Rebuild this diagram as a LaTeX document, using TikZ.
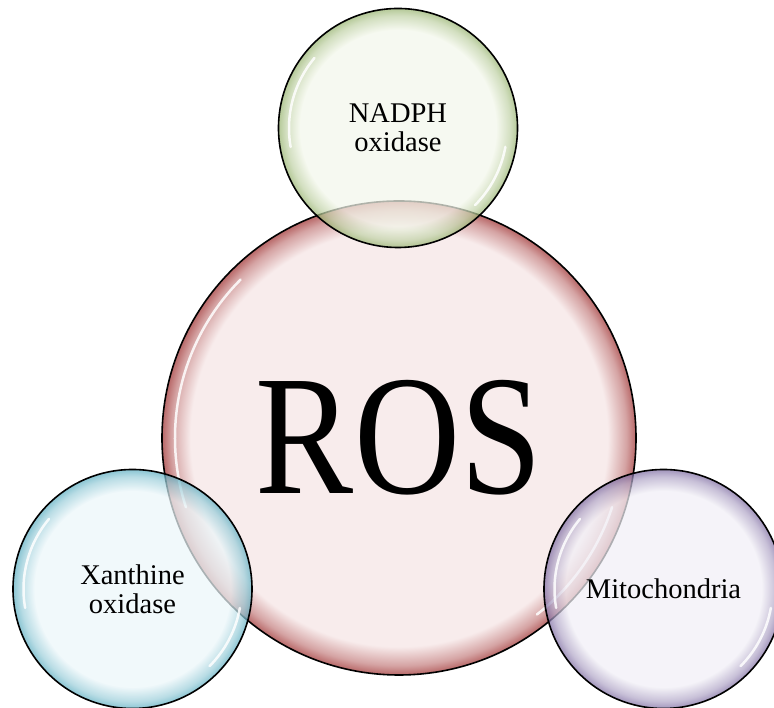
\documentclass[tikz,border=0pt]{standalone}
\usepackage{fontspec}
\setmainfont{Liberation Serif}

\definecolor{rosin}{HTML}{F8ECEC}
\definecolor{rosout}{HTML}{B86868}
\definecolor{nadin}{HTML}{F3F7EB}
\definecolor{nadout}{HTML}{98B470}
\definecolor{xanin}{HTML}{EBF6F9}
\definecolor{xanout}{HTML}{5EAFC2}
\definecolor{mitin}{HTML}{F1EFF6}
\definecolor{mitout}{HTML}{7E6CA2}

\pgfdeclareradialshading{rosball}{\pgfpoint{0bp}{0bp}}{color(0bp)=(rosin); color(22bp)=(rosin); color(24bp)=(rosout!55!rosin); color(25bp)=(rosout); color(50bp)=(rosout)}
\pgfdeclareradialshading{nadball}{\pgfpoint{0bp}{0bp}}{color(0bp)=(nadin); color(20.5bp)=(nadin); color(23.5bp)=(nadout!55!nadin); color(25bp)=(nadout); color(50bp)=(nadout)}
\pgfdeclareradialshading{xanball}{\pgfpoint{0bp}{0bp}}{color(0bp)=(xanin); color(20.5bp)=(xanin); color(23.5bp)=(xanout!55!xanin); color(25bp)=(xanout); color(50bp)=(xanout)}
\pgfdeclareradialshading{mitball}{\pgfpoint{0bp}{0bp}}{color(0bp)=(mitin); color(20.5bp)=(mitin); color(23.5bp)=(mitout!55!mitin); color(25bp)=(mitout); color(50bp)=(mitout)}

\tikzset{
  bubble/.style={circle, draw=black, line width=1.6pt, inner sep=0pt, align=center, shade,
    font=\fontsize{28.5}{29}\selectfont},
  small bubble/.style={bubble, minimum size=239pt, fill opacity=0.72, draw opacity=1, text opacity=1},
  gloss/.style={white, line width=2.5pt, line cap=round, opacity=0.85},
}

\begin{document}
\begin{tikzpicture}[x=1pt,y=1pt]
        \useasboundingbox (0,0) rectangle (774,708);
        % centre
        \node[bubble, minimum size=474pt, shading=rosball, font=\fontsize{171}{171}\selectfont] (ros) at (399,270) {\scalebox{0.86}[1]{ROS}};
        \draw[gloss] (ros.center) ++(135:224pt) arc[start angle=135, end angle=198, radius=224pt];
        \draw[gloss] (ros.center) ++(-18:224pt) arc[start angle=-18, end angle=-52, radius=224pt];
        % sources
        \node[small bubble, shading=nadball] (nadph) at (398,580) {NADPH\\oxidase};
        \node[small bubble, shading=xanball] (xan) at (132.5,119) {Xanthine\\oxidase};
        \node[small bubble, shading=mitball] (mito) at (663.5,119) {Mitochondria};
        \foreach \b in {nadph,xan,mito} {
          \draw[gloss] (\b.center) ++(140:109pt) arc[start angle=140, end angle=190, radius=109pt];
          \draw[gloss] (\b.center) ++(-10:109pt) arc[start angle=-10, end angle=-45, radius=109pt];
        }
      \end{tikzpicture}
\end{document}
